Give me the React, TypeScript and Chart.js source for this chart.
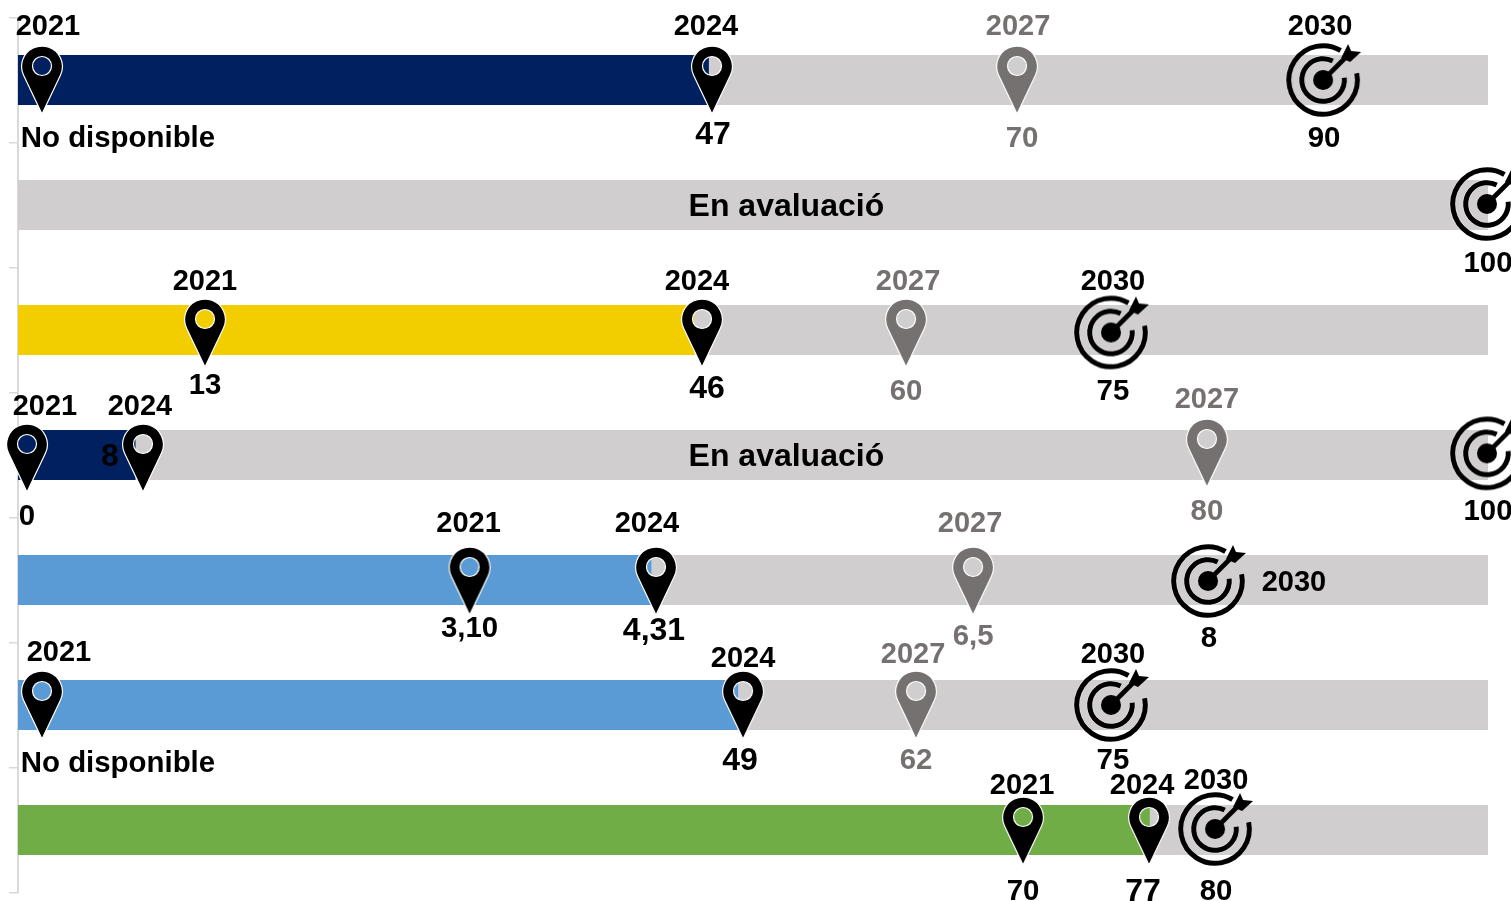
import React, { useEffect, useRef } from "react";
import { Chart, registerables } from "chart.js";

Chart.register(...registerables);

const categories = ["1", "2", "3", "4", "5", "6", "7"];
const achieved = [47, 0, 46, 8, 43.1, 49, 77];
const remaining = [53, 100, 54, 92, 56.9, 51, 23];
const barColors = ["#002060", "#002060", "#f2cd00", "#002060", "#5b9bd5", "#5b9bd5", "#70ad47"];
const notes = [null, "En avaluació", null, "En avaluació", null, null, null];

// Marker positions on the 0-100 axis
const pos2021 = [1.63, null, 12.72, 0.61, 30.72, 1.63, 68.37];
const pos2024 = [47.21, null, 46.53, 8.5, 43.4, 49.32, 76.94];
const pos2027 = [67.96, null, 60.41, 80.88, 64.97, 61.09, null];
const pos2030 = [88.78, 99.93, 74.35, 99.93, 80.95, 74.35, 81.43];

// Printed values
const values2021 = ["No disponible", null, "13", "0", "3,10", "No disponible", "70"];
const values2024 = ["47", null, "46", "8", "4,31", "49", "77"];
const values2027 = ["70", null, "60", "80", "6,5", "62", null];
const values2030 = ["90", "100", "75", "100", "8", "75", "80"];
const hasYear2030 = [true, false, true, false, true, true, true];

// Vertical placement of the markers, in row units
const pinRow = [0, 1, 2.024, 3.024, 4.008, 5, 6.008];
const pin2027Row = [0, 1, 2.024, 2.984, 4.008, 5, 6.008];
const targetRow = [0, 0.992, 2.02, 2.987, 4.008, 5, 5.992];

// Label offsets in px from marker: [yearDx, yearDy, valueDx, valueDy]
const offsets2021 = [[6, -54, 76, 58], null, [0, -52, 0, 52], [18, -52, 0, 58], [-1, -58, 0, 47], [17, -53, 76, 58], [-1, -46, 0, 60]];
const offsets2024 = [[-6, -54, 1, 55], null, [-5, -52, 5, 56], [-3, -52, -33, -1], [-9, -58, -2, 50], [0, -47, -3, 56], [-7, -46, -6, 61]];
const offsets2027 = [[1, -54, 5, 58], null, [2, -52, 0, 58], [0, -54, 0, 58], [-3, -58, 0, 55], [-3, -51, 0, 55], null];
const offsets2030 = [[-3, -54, 1, 58], [0, 0, 1, 59], [2, -51, 2, 59], [0, 0, 1, 58], [86, 1, 1, 57], [2, -51, 2, 55], [1, -49, 1, 62]];

const BLACK = "#000000";
const GREY = "#767171";
const TRACK = "#d0cece";
const TEXT_DY = 0.5;
const NOTE_DY = 2;
const font = (size: number) => `bold ${size}px "Liberation Sans", Arial, sans-serif`;

function makePin(color: string): HTMLCanvasElement {
  const c = document.createElement("canvas");
  c.width = 46;
  c.height = 70;
  const g = c.getContext("2d")!;
  const cx = 23, cy = 21.5, r = 20.4, tipY = 69;
  const a = Math.asin(r / (tipY - cy));
  const outer = new Path2D();
  outer.moveTo(cx, tipY);
  outer.lineTo(cx - r * Math.cos(a), cy + r * Math.sin(a));
  outer.arc(cx, cy, r, Math.PI - a, a, false);
  outer.closePath();
  const hole = new Path2D();
  hole.arc(cx, cy - 0.5, 9.5, 0, Math.PI * 2);
  const both = new Path2D();
  both.addPath(outer);
  both.addPath(hole);
  g.fillStyle = color;
  g.fill(both, "evenodd");
  g.strokeStyle = "#ffffff";
  g.lineWidth = 1.2;
  g.stroke(outer);
  g.stroke(hole);
  return c;
}

function makeTarget(): HTMLCanvasElement {
  const c = document.createElement("canvas");
  c.width = 96;
  c.height = 96;
  const g = c.getContext("2d")!;
  g.translate(48, 48);
  const halo = "rgba(255,255,255,0.4)";
  const rings: [number, number, number][] = [
    [34.3, -0.2, Math.PI * 1.67],
    [21.3, -0.1, Math.PI * 1.65],
  ];
  for (const [rad, from, to] of rings) {
    g.lineCap = "butt";
    g.strokeStyle = halo;
    g.lineWidth = 6.4;
    g.beginPath();
    g.arc(0, 0, rad, from, to);
    g.stroke();
    g.strokeStyle = BLACK;
    g.lineWidth = 5;
    g.beginPath();
    g.arc(0, 0, rad, from, to);
    g.stroke();
  }
  g.fillStyle = BLACK;
  g.beginPath();
  g.arc(0, 0, 10, 0, Math.PI * 2);
  g.fill();
  g.strokeStyle = BLACK;
  g.lineWidth = 4.6;
  g.beginPath();
  g.moveTo(0, 0);
  g.lineTo(23, -23);
  g.stroke();
  g.beginPath();
  g.moveTo(18, -22);
  g.lineTo(25, -36);
  g.lineTo(28, -29);
  g.lineTo(38, -28);
  g.lineTo(27, -18);
  g.closePath();
  g.fill();
  return c;
}

function markerData(pos: (number | null)[], rows: number[]) {
  const out: { x: number; y: number }[] = [];
  pos.forEach((p, i) => {
    if (p !== null) out.push({ x: p, y: rows[i] });
  });
  return out;
}

const labelPlugin = {
  id: "milestoneLabels",
  afterDatasetsDraw(chart: any) {
    const { ctx, scales } = chart;
    const xS = scales.x;
    const yM = scales.yM;
    ctx.save();
    ctx.textAlign = "center";
    ctx.textBaseline = "middle";
    const put = (
      pos: (number | null)[],
      rows: number[],
      vals: (string | null)[],
      offs: (number[] | null)[],
      year: string,
      color: string,
      showYear: (i: number) => boolean,
      valueSize: number
    ) => {
      pos.forEach((p, i) => {
        const o = offs[i];
        if (p === null || !o) return;
        const px = xS.getPixelForValue(p);
        const py = yM.getPixelForValue(rows[i]) + TEXT_DY;
        ctx.fillStyle = color;
        ctx.font = font(29);
        if (showYear(i)) ctx.fillText(year, px + o[0], py + o[1]);
        const v = vals[i];
        if (v) {
          ctx.font = font(valueSize);
          ctx.fillText(v, px + o[2], py + o[3]);
        }
      });
    };
    put(pos2021, pinRow, values2021, offsets2021, "2021", BLACK, () => true, 29.4);
    put(pos2024, pinRow, values2024, offsets2024, "2024", BLACK, () => true, 32);
    put(pos2027, pin2027Row, values2027, offsets2027, "2027", GREY, () => true, 29.4);
    put(pos2030, targetRow, values2030, offsets2030, "2030", BLACK, (i) => hasYear2030[i], 29.4);
    ctx.fillStyle = BLACK;
    ctx.font = font(32);
    notes.forEach((n, i) => {
      if (n) ctx.fillText(n, xS.getPixelForValue(52.27), yM.getPixelForValue(i) + NOTE_DY);
    });
    ctx.restore();
  },
};

export default function App() {
  const ref = useRef<HTMLCanvasElement>(null);
  useEffect(() => {
    const blackPin = makePin(BLACK);
    const greyPin = makePin(GREY);
    const target = makeTarget();
    const markerSet = (label: string, data: any[], style: HTMLCanvasElement) => ({
      type: "scatter" as const,
      label,
      data,
      indexAxis: "x",
      xAxisID: "x",
      yAxisID: "yM",
      pointStyle: style,
      pointRadius: 10,
      pointHoverRadius: 10,
      showLine: false,
      clip: false,
      order: 1,
    });
    const bar = { xAxisID: "x", yAxisID: "y", stack: "s", grouped: false, barPercentage: 0.4, categoryPercentage: 1, order: 3 };
    const chart = new Chart(ref.current!, {
      type: "bar",
      data: {
        labels: categories,
        datasets: [
          { label: "Assolit", data: achieved, backgroundColor: barColors, ...bar },
          { label: "Pendent", data: remaining, backgroundColor: TRACK, ...bar },
          markerSet("2027", markerData(pos2027, pin2027Row), greyPin),
          markerSet("2030", markerData(pos2030, targetRow), target),
          markerSet("2021", markerData(pos2021, pinRow), blackPin),
          markerSet("2024", markerData(pos2024, pinRow), blackPin),
        ] as any,
      },
      options: {
        indexAxis: "y",
        responsive: false,
        animation: false,
        events: [],
        layout: { autoPadding: false, padding: { top: 17.5, bottom: 8.5, left: 0, right: 23 } },
        plugins: { legend: { display: false }, tooltip: { enabled: false } },
        scales: {
          x: { type: "linear", display: false, min: 0, max: 100, stacked: true },
          y: {
            type: "category",
            stacked: true,
            afterFit: (s: any) => {
              s.width = 18;
            },
            border: { color: "#d9d9d9", width: 2 },
            grid: { drawOnChartArea: false, drawTicks: true, tickLength: 9, color: "#d9d9d9", lineWidth: 1.5, offset: true },
            ticks: { display: false },
          },
          yM: { type: "linear", display: false, min: -0.5, max: 6.5, reverse: true, position: "left", offset: false },
        },
      } as any,
      plugins: [labelPlugin],
    });
    return () => chart.destroy();
  }, []);
  return (
    <div style={{ position: "fixed", left: 0, top: 0, width: 1511, height: 901, overflow: "hidden", background: "#fff" }}>
      <canvas ref={ref} width={1511} height={901} style={{ display: "block" }} />
    </div>
  );
}
